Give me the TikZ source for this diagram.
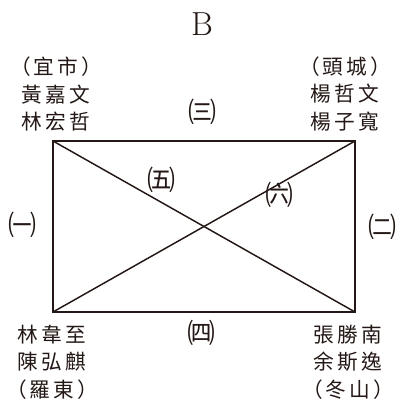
\documentclass[tikz,border=0pt]{standalone}
\usepackage{fontspec}
\usepackage{xcolor}
\usepackage{tikz}
\newfontfamily\cjkname[LetterSpace=15]{Noto Sans CJK TC}
\newfontfamily\cjkmark{Noto Sans CJK TC}
\definecolor{inkline}{HTML}{231815}

\tikzset{
  names/.style={align=center, inner sep=0pt, text=inkline,
    font=\cjkname\fontsize{15.5}{20.5}\selectfont},
  sidemark/.style={inner sep=0pt, text=inkline,
    font=\cjkmark\fontsize{21}{22}\selectfont},
  frameline/.style={inkline, line width=2.2pt},
  crossline/.style={inkline, line width=1.1pt}
}

\begin{document}
\begin{tikzpicture}[x=0.75pt,y=-0.75pt]
\useasboundingbox (0,0) rectangle (405,404);

% corners of the field
\coordinate (nw) at (53,141);
\coordinate (ne) at (355,141);
\coordinate (se) at (355,312);
\coordinate (sw) at (53,312);

\draw[frameline] (nw) -- (ne) -- (se) -- (sw) -- cycle;
\draw[crossline] (nw) -- (se);
\draw[crossline] (ne) -- (sw);

\node[text=inkline, font=\fontsize{25}{28}\selectfont] (north) at (202,24) {B};

\node[names] (yishi) at (56,94) {（宜市）\\黃嘉文\\林宏哲};
\node[names] (toucheng) at (345,94) {（頭城）\\楊哲文\\楊子寬};
\node[names] (luodong) at (52,362) {林韋至\\陳弘麒\\（羅東）};
\node[names] (dongshan) at (348,362) {張勝南\\余斯逸\\（冬山）};

% route marks
\node[sidemark] (one) at (22,225) {㈠};
\node[sidemark] (two) at (383,227) {㈡};
\node[sidemark] (three) at (203,112) {㈢};
\node[sidemark] (four) at (202,333) {㈣};
\node[sidemark] (five) at (162,180) {㈤};
\node[sidemark] (six) at (280,195) {㈥};

\end{tikzpicture}
\end{document}
